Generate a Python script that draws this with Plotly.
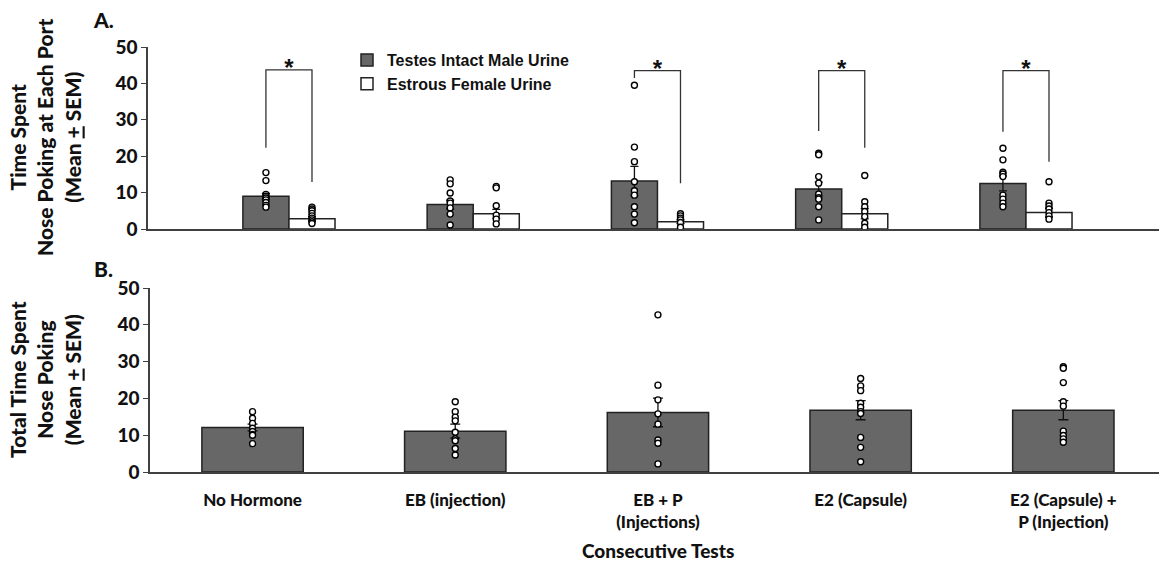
import plotly.graph_objects as go

categories = ["No Hormone", "EB (injection)", "EB + P<br>(Injections)", "E2 (Capsule)", "E2 (Capsule) +<br>P (Injection)"]
x_pos = [0, 1, 2, 3, 4]

male_mean = [9.0, 6.7, 13.2, 11.0, 12.5]
male_sem = [0.8, 1.2, 4.0, 1.9, 2.0]
female_mean = [2.8, 4.2, 2.0, 4.2, 4.5]
female_sem = [0.6, 1.2, 0.5, 1.4, 1.2]

male_points = [
    [15.5, 13.3, 9.5, 9.0, 8.5, 8.0, 7.3, 6.5, 6.0],
    [13.5, 12.4, 9.9, 7.7, 7.1, 5.8, 4.1, 1.1],
    [39.5, 22.5, 18.5, 13.0, 10.5, 9.3, 6.1, 4.1, 1.7],
    [20.8, 20.4, 14.4, 12.6, 9.6, 8.6, 8.2, 6.1, 2.5],
    [22.2, 19.0, 15.6, 15.1, 14.4, 9.3, 8.2, 7.1, 6.1],
]
female_points = [
    [6.0, 5.5, 5.0, 4.3, 3.6, 3.0, 2.5, 2.0, 1.5],
    [11.7, 11.3, 6.4, 3.8, 2.7, 1.4],
    [4.2, 3.6, 3.0, 2.5, 1.8, 0.5],
    [14.7, 7.5, 6.1, 4.8, 3.4, 1.6, 0.5],
    [13.0, 7.1, 6.3, 5.5, 4.5, 3.6, 2.7],
]

total_mean = [12.1, 11.1, 16.2, 16.8, 16.8]
total_sem = [0.9, 1.9, 3.9, 2.6, 2.6]
total_points = [
    [16.4, 14.6, 13.2, 11.9, 11.0, 10.2, 10.0, 7.7],
    [19.1, 16.4, 14.9, 13.9, 10.8, 9.0, 8.5, 6.4, 4.6],
    [42.7, 23.6, 19.6, 15.8, 13.0, 8.7, 7.8, 2.2],
    [25.4, 23.4, 22.1, 18.7, 17.6, 16.4, 15.9, 9.4, 6.7, 2.8],
    [28.6, 28.2, 24.3, 19.1, 17.9, 11.1, 9.9, 9.0, 8.1],
]

sig_groups = [0, 2, 3, 4]
bracket_top = [43.7, 43.5, 43.5, 43.5]
bracket_left = [22.3, 41.5, 26.9, 26.7]
bracket_right = [12.9, 12.6, 22.3, 18.5]

yticks = [0, 10, 20, 30, 40, 50]

W, H = 1159, 563
BAR_FILL = "#676767"
EDGE = "#222222"
AX = "#404040"
CAL = "Lato, Carlito, Calibri, sans-serif"
ARIAL = "Liberation Sans, Arial, sans-serif"
half = 0.125

fig = go.Figure()

fig.add_trace(go.Bar(
    x=x_pos, y=male_mean, offset=-0.25, width=0.25, name="Testes Intact Male Urine",
    marker=dict(color=BAR_FILL, line=dict(color=EDGE, width=1.5)),
    error_y=dict(type="data", array=male_sem, color="#111", thickness=1.3, width=4),
    xaxis="x", yaxis="y", showlegend=True))
fig.add_trace(go.Bar(
    x=x_pos, y=female_mean, offset=0, width=0.25, name="Estrous Female Urine",
    marker=dict(color="white", line=dict(color=EDGE, width=1.5)),
    error_y=dict(type="data", array=female_sem, color="#111", thickness=1.3, width=4),
    xaxis="x", yaxis="y", showlegend=True))

fig.add_trace(go.Bar(
    x=x_pos, y=total_mean, width=0.5,
    marker=dict(color=BAR_FILL, line=dict(color=EDGE, width=1.5)),
    error_y=dict(type="data", array=total_sem, color="#111", thickness=1.3, width=5),
    xaxis="x2", yaxis="y2", showlegend=False))

marker_style = dict(symbol="circle", size=6, color="white", line=dict(color="black", width=1.4))

def pts(groups, shift, xa, ya):
    xs, ys = [], []
    for i, g in enumerate(groups):
        for v in g:
            xs.append(x_pos[i] + shift)
            ys.append(v)
    fig.add_trace(go.Scatter(x=xs, y=ys, mode="markers", marker=marker_style,
                             xaxis=xa, yaxis=ya, showlegend=False, hoverinfo="y"))

pts(male_points, -half, "x", "y")
pts(female_points, half, "x", "y")
pts(total_points, 0, "x2", "y2")

for gi, top, lb, rb in zip(sig_groups, bracket_top, bracket_left, bracket_right):
    c = x_pos[gi]
    fig.add_trace(go.Scatter(
        x=[c - half, c - half, c + half, c + half], y=[lb, top, top, rb],
        mode="lines", line=dict(color="#333", width=1.3),
        xaxis="x", yaxis="y", showlegend=False, hoverinfo="skip"))
    fig.add_trace(go.Scatter(
        x=[c], y=[top], mode="text", text=["*"], textposition="middle center",
        textfont=dict(family=ARIAL, size=24, color="#111", weight="bold"),
        xaxis="x", yaxis="y", showlegend=False, hoverinfo="skip"))

top_dom = [1 - 229 / H, 1 - 47 / H]
bot_dom = [1 - 472 / H, 1 - 288 / H]

tickfont = dict(family=CAL, size=19, color="#111", weight=900)

common_y = dict(range=[0, 50], tickvals=yticks, ticks="outside", ticklen=5, tickcolor=AX,
                showline=True, linecolor=AX, linewidth=1.5, showgrid=False, zeroline=False,
                tickfont=tickfont, automargin=False)

fig.update_layout(
    template="none",
    autosize=False,
    width=W, height=H, margin=dict(l=0, r=0, t=0, b=0, pad=0, autoexpand=False),
    paper_bgcolor="white", plot_bgcolor="white",
    barmode="overlay",
    xaxis=dict(domain=[148 / W, 1], range=[-0.765, 4.722], showticklabels=False, ticks="",
               showline=True, linecolor=AX, linewidth=1.5, showgrid=False, zeroline=False,
               anchor="y", automargin=False),
    yaxis=dict(domain=top_dom, anchor="x", **common_y),
    xaxis2=dict(domain=[150 / W, 1], range=[-0.506, 4.472], tickvals=x_pos,
                ticktext=categories,
                ticks="", showline=True, linecolor=AX, linewidth=1.5, showgrid=False,
                zeroline=False, tickfont=dict(family=CAL, size=17, color="#111", weight=900),
                ticklabelstandoff=12, anchor="y2", automargin=False),
    yaxis2=dict(domain=bot_dom, anchor="x2", **common_y),
    legend=dict(x=347 / W, y=1 - 43 / H, xanchor="left", yanchor="top",
                bgcolor="rgba(0,0,0,0)", borderwidth=0, itemwidth=30,
                font=dict(family=ARIAL, size=16, color="#111", weight="bold"),
                traceorder="normal", tracegroupgap=0),
    showlegend=True,
)

ann_font = dict(family=CAL, size=21, color="#111", weight=900)
fig.add_annotation(text="Time Spent<br>Nose Poking at Each Port<br>(Mean <u>+</u> SEM)",
                   xref="paper", yref="paper", x=45 / W, y=1 - 138 / H, textangle=-90,
                   xanchor="center", yanchor="middle", showarrow=False, font=ann_font)
fig.add_annotation(text="Total Time Spent<br>Nose Poking<br>(Mean <u>+</u> SEM)",
                   xref="paper", yref="paper", x=45 / W, y=1 - 380 / H, textangle=-90,
                   xanchor="center", yanchor="middle", showarrow=False, font=ann_font)
fig.add_annotation(text="A.", xref="paper", yref="paper", x=103 / W, y=1 - 20 / H,
                   xanchor="center", yanchor="middle", showarrow=False, font=ann_font)
fig.add_annotation(text="B.", xref="paper", yref="paper", x=103 / W, y=1 - 268 / H,
                   xanchor="center", yanchor="middle", showarrow=False, font=ann_font)
fig.add_annotation(text="Consecutive Tests", xref="paper", yref="paper",
                   x=658 / W, y=1 - 550 / H, xanchor="center", yanchor="middle",
                   showarrow=False, font=dict(family=CAL, size=19, color="#111", weight=900))

fig.write_html("out.html", config={"displayModeBar": False},
               post_script="document.body.style.margin='0';")
